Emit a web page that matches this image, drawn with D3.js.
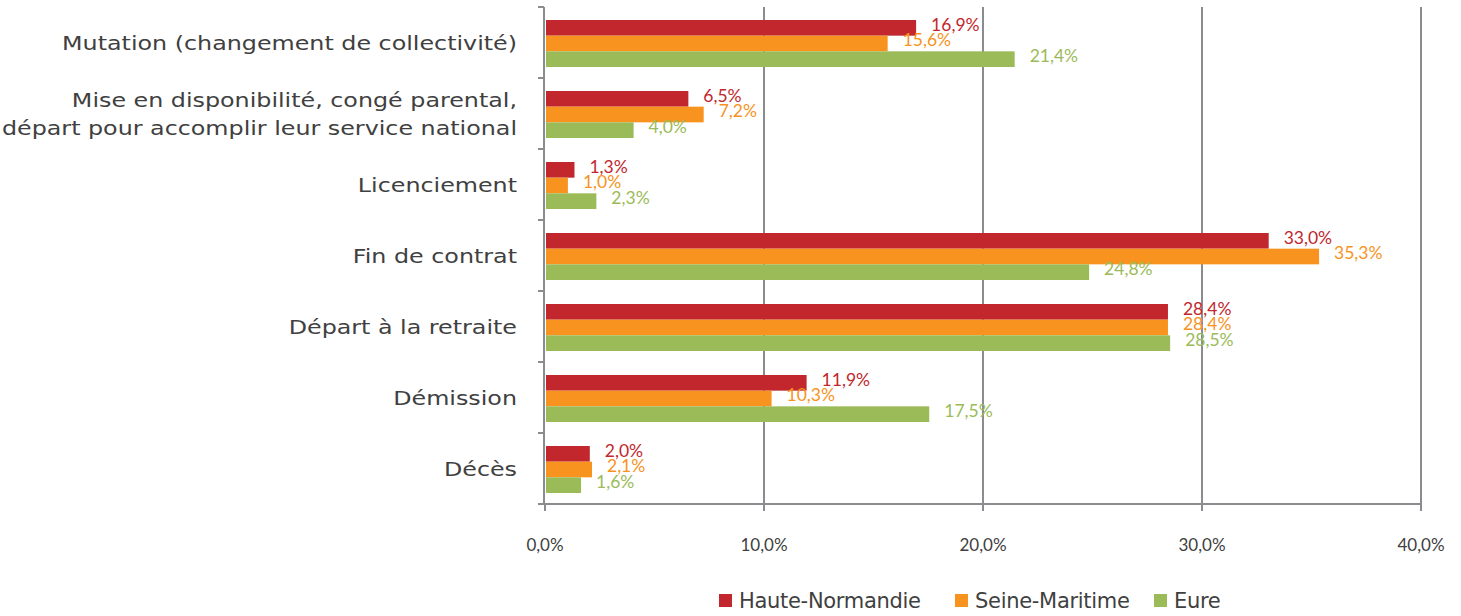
<!DOCTYPE html>
<html><head><meta charset="utf-8">
<script src="https://cdn.jsdelivr.net/npm/d3@7"></script>
<style>body{margin:0;background:#fff;}svg{display:block;}</style>
</head><body>
<svg id="c" width="1461" height="616"></svg>
<script>
const categories = [
  ["Mutation (changement de collectivité)"],
  ["Mise en disponibilité, congé parental,", "départ pour accomplir leur service national"],
  ["Licenciement"],
  ["Fin de contrat"],
  ["Départ à la retraite"],
  ["Démission"],
  ["Décès"]
];
const seriesNames = ["Haute-Normandie", "Seine-Maritime", "Eure"];
const hauteNormandie = [16.9, 6.5, 1.3, 33.0, 28.4, 11.9, 2.0];
const seineMaritime = [15.6, 7.2, 1.0, 35.3, 28.4, 10.3, 2.1];
const eure = [21.4, 4.0, 2.3, 24.8, 28.5, 17.5, 1.6];
const xTicks = [0, 10, 20, 30, 40];
const colors = ["#C1272D", "#F7931E", "#9BBB59"];

const series = [hauteNormandie, seineMaritime, eure];
const svg = d3.select("#c");
const font = "'DejaVu Sans', sans-serif";
const numFont = "Lato, sans-serif";
const x = d3.scaleLinear().domain([0, 40]).range([545, 1421]);
const y = d3.scaleBand().domain(d3.range(categories.length)).range([7, 504]);
const yInner = d3.scaleBand().domain(d3.range(3)).range([0, 47]);
const grid = "#8a8c90";

// gridlines
svg.append("g").selectAll("line").data(xTicks.slice(1)).join("line")
  .attr("x1", d => x(d)).attr("x2", d => x(d)).attr("y1", 7).attr("y2", 504)
  .attr("stroke", grid).attr("stroke-width", 2);

// bars
const off = (y.bandwidth() - 47) / 2 + 1;
series.forEach((s, si) => {
  const g = svg.append("g");
  g.selectAll("rect").data(s).join("rect")
    .attr("x", x(0) + 1).attr("y", (d, i) => y(i) + off + yInner(si))
    .attr("width", d => x(d) - x(0)).attr("height", yInner.bandwidth())
    .attr("fill", colors[si]);
  g.selectAll("text").data(s).join("text")
    .attr("x", d => x(d) + 16).attr("y", (d, i) => y(i) + off + yInner(si) + yInner.bandwidth() - 5)
    .attr("fill", colors[si]).attr("font-family", numFont).attr("font-size", 17.5)
    .text(d => d.toFixed(1).replace(".", ",") + "%");
});

// left axis
const ax = svg.append("g");
ax.append("line").attr("x1", 544).attr("x2", 544).attr("y1", 7).attr("y2", 504).attr("stroke", grid).attr("stroke-width", 2);
ax.selectAll("line.t").data(d3.range(categories.length + 1)).join("line").attr("class", "t")
  .attr("x1", 538).attr("x2", 544).attr("y1", i => 7 + i * y.step()).attr("y2", i => 7 + i * y.step())
  .attr("stroke", grid).attr("stroke-width", 2);
// bottom axis
ax.append("line").attr("x1", 538).attr("x2", 1422).attr("y1", 504).attr("y2", 504).attr("stroke", grid).attr("stroke-width", 2);
ax.selectAll("line.b").data(xTicks).join("line").attr("class", "b")
  .attr("x1", d => x(d)).attr("x2", d => x(d)).attr("y1", 504).attr("y2", 511)
  .attr("stroke", grid).attr("stroke-width", 2);
ax.selectAll("text.xt").data(xTicks).join("text").attr("class", "xt")
  .attr("x", d => x(d)).attr("y", 551).attr("text-anchor", "middle")
  .attr("fill", "#404040").attr("font-family", numFont).attr("font-size", 17)
  .text(d => d.toFixed(1).replace(".", ",") + "%");

// category labels
categories.forEach((lines, i) => {
  const cy = y(i) + y.bandwidth() / 2;
  const lh = 28;
  lines.forEach((ln, j) => {
    svg.append("text")
      .attr("transform", `translate(517,${cy + (j - (lines.length - 1) / 2) * lh + 2}) scale(1.19,1)`)
      .attr("text-anchor", "end").attr("dominant-baseline", "middle")
      .attr("fill", "#404040").attr("font-family", font).attr("font-size", 20).text(ln);
  });
});

// legend
const legX = [719, 955, 1154];
seriesNames.forEach((n, i) => {
  svg.append("rect").attr("x", legX[i]).attr("y", 594).attr("width", 13).attr("height", 13).attr("fill", colors[i]);
  svg.append("text").attr("x", legX[i] + 20).attr("y", 602).attr("dominant-baseline", "middle")
    .attr("letter-spacing", -0.3)
    .attr("fill", "#404040").attr("font-family", font).attr("font-size", 21).text(n);
});
</script>
</body></html>
